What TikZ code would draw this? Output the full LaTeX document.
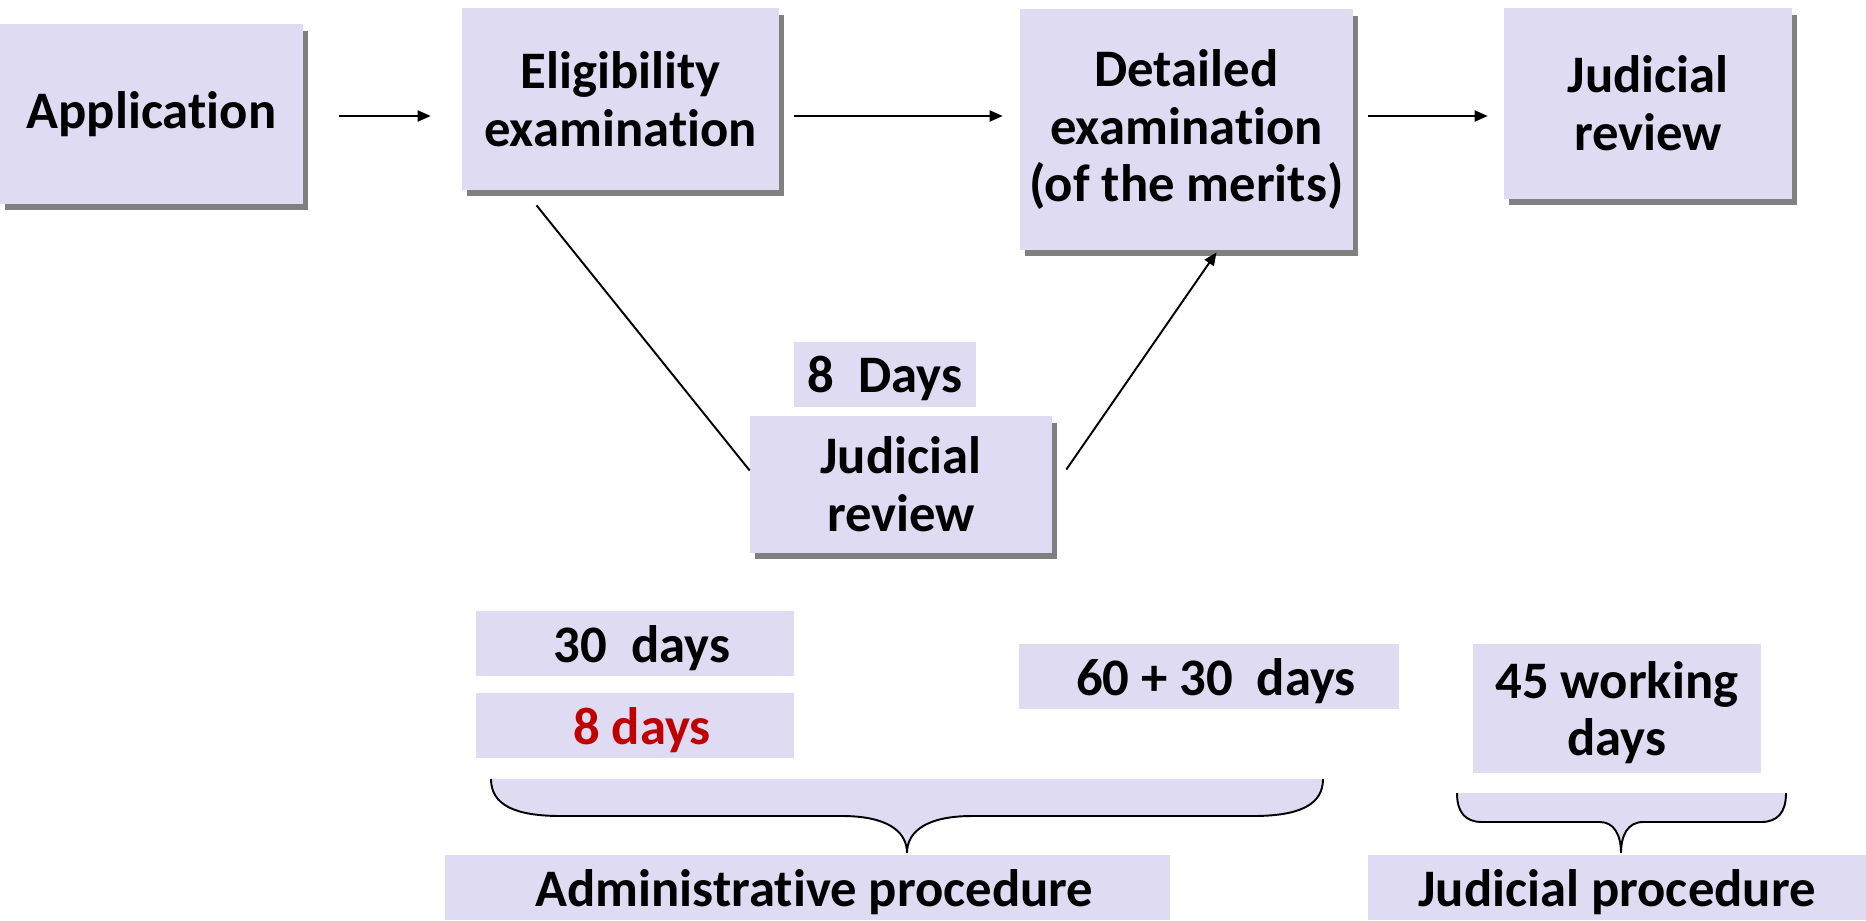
\documentclass[tikz,border=0pt]{standalone}
\usepackage{fontspec}
\setmainfont{Carlito}[Ligatures=NoCommon]
\usetikzlibrary{arrows.meta,shadows}

\definecolor{boxlilac}{RGB}{223,219,242}
\definecolor{deepred}{RGB}{192,0,0}
\tikzstyle{b} = [fill=boxlilac, inner sep=0pt, align=center, font=\fontsize{30}{33}\selectfont\bfseries]
\newcommand{\pad}{\hspace{0.28cm}}

\begin{document}
\begin{tikzpicture}[x=0.02cm, y=-0.02cm,
			main/.style={b, drop shadow={shadow xshift=0.1cm, shadow yshift=-0.13cm, opacity=1, fill=black!50}},
			days/.style={b, minimum height=1.3cm, text depth=0pt},
			arr/.style={line width=1.1pt, -{Triangle[length=0.26cm,width=0.22cm]}},
			brace/.style={line width=1.1pt, fill=boxlilac}]
			\useasboundingbox (0,0) rectangle (1866,920);
			\coordinate (row) at (0,116);
			
			\node (1)[main, minimum width=6.06cm, minimum height=3.6cm] at (151.5,114) {Application};
			\node (2)[main, minimum width=6.34cm, minimum height=3.64cm] at (620.5,99) {Eligibility\\examination};
			\node (3)[main, minimum width=6.66cm, minimum height=4.82cm] at (1186.5,129.5) {Detailed\\examination\\(of the merits)};
			\node (4)[main, minimum width=5.76cm, minimum height=3.82cm] at (1648,103.5) {Judicial\\review};
			\node (5)[main, minimum width=6.04cm, minimum height=2.74cm] at (901,484.5) {Judicial\\review};
			
			\node (6)[days, minimum width=3.64cm] at (885,374.5) {8\ \ Days};
			\node (7)[days, minimum width=6.36cm] at (635,643.5) {\pad 30\ \ days};
			\node (8)[days, minimum width=6.36cm, text=deepred] at (635,725.5) {\pad 8 days};
			\node (9)[days, minimum width=7.6cm] at (1209,676.5) {\pad 60 + 30\ \ days};
			\node (10)[days, minimum width=5.76cm, minimum height=2.58cm] at (1617,708.5) {45 working\\days};
			\node (11)[days, minimum width=14.5cm] at (807.5,887.5) {\pad Administrative procedure};
			\node (12)[days, minimum width=9.96cm] at (1617,887.5) {Judicial procedure};
			
			\draw[arr, shorten <=0.72cm, shorten >=0.62cm] (1.east |- row) -- (2.west |- row);
			\draw[arr, shorten <=0.3cm, shorten >=0.34cm] (2.east |- row) -- (3.west |- row);
			\draw[arr, shorten <=0.3cm, shorten >=0.32cm] (3.east |- row) -- (4.west |- row);
			\draw[line width=1.1pt] ([shift={(-84,15)}]2.south) -- ([shift={(0,-14)}]5.west);
			\draw[arr] ([shift={(14,-15)}]5.east) -- ([shift={(30,2)}]3.south);
			
			\draw[brace] (491,779) .. controls (491,805) and (515,816) .. (561,816) -- (842,816)
			.. controls (885,816) and (907,830) .. (907,853)
			.. controls (907,830) and (929,816) .. (972,816) -- (1253,816)
			.. controls (1299,816) and (1323,805) .. (1323,779);
			\draw[brace] (1457,793) .. controls (1457,812) and (1465,822) .. (1482,822) -- (1600,822)
			.. controls (1614,822) and (1621,835) .. (1621,853)
			.. controls (1621,835) and (1628,822) .. (1643,822) -- (1761,822)
			.. controls (1778,822) and (1786,812) .. (1786,793);
		\end{tikzpicture}
\end{document}
